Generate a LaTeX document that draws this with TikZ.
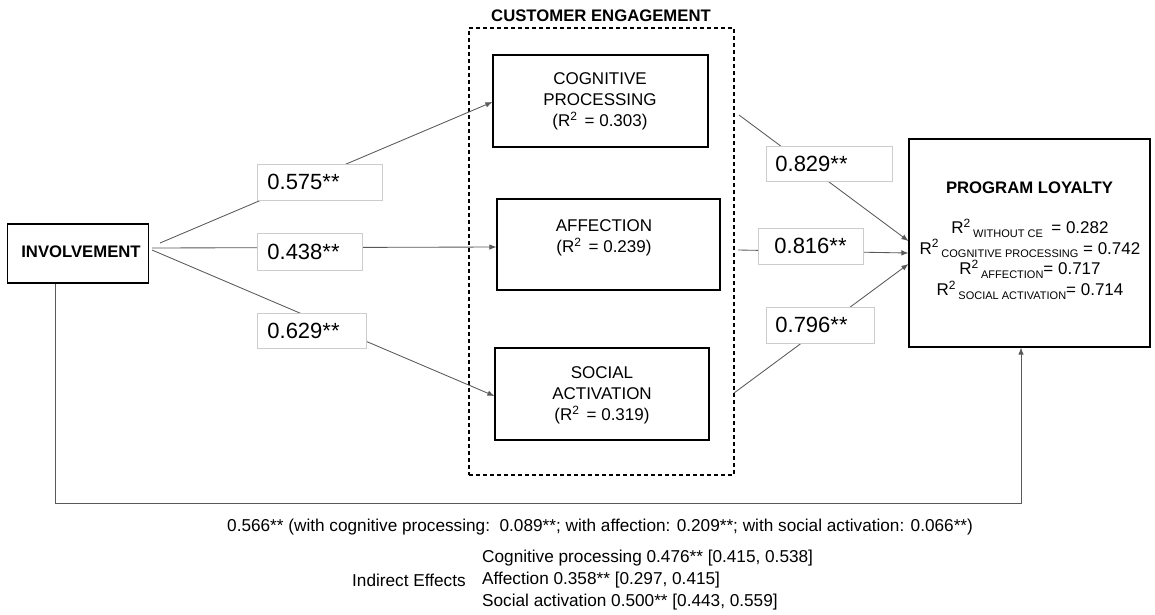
\documentclass[tikz,border=0pt]{standalone}
\usepackage{fontspec}
\setmainfont{Liberation Sans}
\usetikzlibrary{arrows.meta}
\newcommand{\mysup}[1]{\raisebox{0.36em}{\fontsize{12}{12}\selectfont #1}}
\newcommand{\mysub}[1]{\raisebox{-0.22em}{\fontsize{11}{11}\selectfont #1}}
\begin{document}
\begin{tikzpicture}[x=1pt,y=-1pt,
  box/.style={draw=black, line width=1.2pt, inner sep=0pt},
  btext/.style={font=\fontsize{17}{21}\selectfont, align=center, inner sep=0pt},
  rline/.style={font=\fontsize{17}{21}\selectfont, inner sep=0pt, text height=12pt, text depth=3pt},
  bold/.style={font=\fontsize{16.7}{20}\selectfont\bfseries, inner sep=0pt},
  lbl/.style={draw=black!20, fill=white, line width=0.8pt, anchor=north west,
    inner ysep=0pt, align=left, font=\fontsize{22}{22}\selectfont},
  conn/.style={draw=black!65, line width=0.85pt},
  arrowed/.style={-{Latex[length=7pt,width=5.5pt]}},
  note/.style={font=\fontsize{17.2}{20}\selectfont, inner sep=0pt, anchor=west}
]
\useasboundingbox[fill=white] (0,0) rectangle (1155,614);

% customer engagement frame
\node[draw=black, line width=1.1pt, dash pattern=on 4pt off 3pt, minimum width=265pt, minimum height=447pt, inner sep=0pt] (ce) at (601.5,251.5) {};
\node[bold] (cetitle) at (601,16) {CUSTOMER ENGAGEMENT};

% boxes
\node[box, minimum width=141pt, minimum height=59pt] (inv) at (78,253.5) {};
\node[bold] (invtext) at (81,252) {INVOLVEMENT};

\node[box, minimum width=215pt, minimum height=92pt] (cog) at (600.5,101) {};
\node[btext] (cogtext) at (600,101) {COGNITIVE\\PROCESSING\\(R\mysup{2}\, = 0.303)};

\node[box, minimum width=223pt, minimum height=91pt] (aff) at (608.5,244.5) {};
\node[btext] (afftext) at (604,238) {AFFECTION\\(R\mysup{2}\, = 0.239)};

\node[box, minimum width=214pt, minimum height=92pt] (soc) at (602,394) {};
\node[btext] (soctext) at (602,395) {SOCIAL\\ACTIVATION\\(R\mysup{2}\, = 0.319)};

\node[box, minimum width=241pt, minimum height=208pt] (pl) at (1029.5,243) {};
\node[bold] (pltitle) at (1029.5,188) {PROGRAM LOYALTY};
\node[rline] (pl1) at (1030,229) {R\mysup{2}\,\mysub{WITHOUT CE}\enspace= 0.282};
\node[rline] (pl2) at (1030,249.5) {R\mysup{2}\,\mysub{COGNITIVE PROCESSING} = 0.742};
\node[rline] (pl3) at (1030,270) {R\mysup{2}\,\mysub{AFFECTION}= 0.717};
\node[rline] (pl4) at (1030,291) {R\mysup{2}\,\mysub{SOCIAL ACTIVATION}= 0.714};

% start coordinates
\coordinate (s1) at (160,243);
\coordinate (s2) at (152,248);
\coordinate (s3) at (152,250);
\coordinate (t1) at (739,115);
\coordinate (t2) at (738,250);
\coordinate (t3) at (734,393);
\coordinate (b0) at ([xshift=-23pt]inv.south);

% connectors (drawn under labels)
\draw[conn, arrowed] (s1) -- ([yshift=-1pt]cog.west);
\draw[conn, arrowed] (s2) -- ([yshift=-2.5pt]aff.west);
\draw[conn, arrowed] (s3) -- ([yshift=-2pt]soc.west);
\draw[conn, arrowed] (t1) -- ([yshift=2pt]pl.west);
\draw[conn, arrowed] (t2) -- ([yshift=-10pt]pl.west);
\draw[conn, arrowed] (t3) -- ([yshift=-21pt]pl.west);
\draw[conn, arrowed, shorten >=-2pt] (b0) -- ++(0,220) -| ([xshift=-8.5pt,yshift=-2pt]pl.south);

% coefficient labels
\node[lbl, inner xsep=10pt, text width=105pt, minimum height=36pt] (l1) at (257,164) {0.575**};
\node[lbl, inner xsep=10pt, text width=85pt, minimum height=37pt] (l2) at (257,233) {0.438**};
\node[lbl, inner xsep=10pt, text width=89pt, minimum height=35pt] (l3) at (257,313) {0.629**};
\node[lbl, inner xsep=9pt, text width=108pt, minimum height=35pt] (l4) at (766,146) {0.829**};
\node[lbl, inner xsep=16pt, text width=73pt, minimum height=36pt] (l5) at (758,228) {0.816**};
\node[lbl, inner xsep=9pt, text width=90pt, minimum height=36pt] (l6) at (766,307) {0.796**};

% notes
\node[note] (direct) at (227,527) {0.566** (with cognitive processing:\ \ 0.089**; with affection: 0.209**; with social activation: 0.066**)};
\node[note] (ie) at (352,580) {Indirect Effects};
\node[note] (ie1) at (482,558) {Cognitive processing 0.476** [0.415, 0.538]};
\node[note] (ie2) at (482,580) {Affection 0.358** [0.297, 0.415]};
\node[note] (ie3) at (482,602) {Social activation 0.500** [0.443, 0.559]};
\end{tikzpicture}
\end{document}
